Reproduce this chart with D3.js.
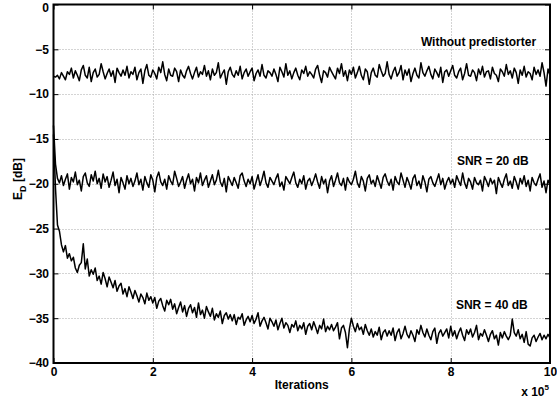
<!DOCTYPE html>
<html>
<head>
<meta charset="utf-8">
<script src="https://cdn.jsdelivr.net/npm/d3@7"></script>
<style>
  html, body { margin: 0; padding: 0; background: #fff; }
  svg { display: block; font-family: "Liberation Sans", Arial, Helvetica, sans-serif; font-weight: bold; }
</style>
</head>
<body>
<svg id="chart" width="557" height="403"></svg>
<script>
// ---- data (x in units of 1e5 iterations) ----
const iterStep = 0.04;   // spacing between samples, x 10^5 iterations
const xTicks = [0, 2, 4, 6, 8, 10];
const yTicks = [-40, -35, -30, -25, -20, -15, -10, -5, 0];
const labels = ["Without predistorter", "SNR = 20 dB", "SNR = 40 dB"];

const withoutPD = [
-8.0,-8.1,-7.9,-8.3,-7.6,-8.0,-8.4,-7.5,-7.8,-7.1,
-8.2,-7.4,-7.9,-8.5,-7.3,-6.8,-7.9,-8.2,-7.0,-8.6,
-7.6,-7.2,-8.1,-7.8,-6.6,-7.5,-8.3,-7.7,-7.2,-8.0,
-7.4,-8.7,-7.1,-7.6,-8.0,-7.3,-7.9,-6.9,-8.2,-7.5,
-7.8,-7.0,-8.4,-7.6,-7.2,-8.8,-7.4,-6.7,-7.9,-8.1,
-7.3,-7.7,-8.3,-7.0,-7.6,-6.4,-7.8,-8.5,-7.2,-7.9,
-8.0,-7.1,-7.5,-8.6,-7.3,-7.9,-8.2,-7.4,-6.9,-7.7,
-8.3,-7.6,-7.0,-8.1,-7.5,-7.8,-6.8,-8.0,-7.4,-8.4,
-7.2,-7.9,-7.6,-6.5,-8.2,-7.7,-7.3,-8.9,-7.5,-7.0,
-7.8,-8.1,-7.4,-7.9,-6.9,-8.3,-7.6,-7.2,-8.0,-7.5,
-7.1,-8.5,-7.7,-7.3,-8.0,-6.7,-7.9,-8.2,-7.4,-7.6,
-8.0,-7.2,-7.8,-8.6,-7.0,-7.5,-8.1,-6.6,-7.9,-7.4,
-8.3,-7.6,-7.1,-7.9,-8.4,-7.3,-7.7,-6.9,-8.0,-7.5,
-7.8,-8.2,-7.2,-6.8,-7.9,-8.7,-7.4,-7.6,-8.1,-7.0,
-7.5,-7.9,-8.3,-7.1,-7.7,-6.6,-8.0,-7.4,-8.5,-7.3,
-7.8,-7.0,-8.2,-7.6,-6.9,-7.9,-8.4,-7.2,-7.5,-8.9,
-7.6,-7.1,-7.9,-8.1,-6.7,-7.4,-8.0,-7.7,-6.4,-7.8,
-8.3,-7.5,-7.0,-8.0,-7.6,-6.8,-8.4,-7.3,-7.9,-7.2,
-8.6,-7.7,-7.1,-7.9,-8.2,-6.5,-7.6,-8.0,-7.4,-6.9,
-7.8,-8.3,-7.2,-7.6,-8.1,-7.0,-8.7,-7.5,-7.3,-8.0,
-7.4,-6.8,-7.9,-8.2,-7.5,-7.1,-8.4,-7.7,-6.6,-7.9,
-8.0,-7.3,-7.6,-8.5,-7.2,-7.8,-6.9,-8.1,-7.5,-7.4,
-8.3,-7.0,-7.7,-7.9,-8.6,-7.2,-7.5,-8.0,-6.7,-7.8,
-7.4,-8.2,-7.1,-7.6,-8.8,-7.3,-7.9,-6.9,-8.1,-7.5,
-7.7,-8.4,-7.0,-7.8,-7.3,-8.0,-6.5,-7.6,-9.1,-7.2,
-7.9
];

const snr20 = [
-13.5,-17.8,-19.4,-19.9,-19.1,-20.2,-19.5,-18.9,-20.6,-19.3,
-19.8,-18.7,-20.1,-19.6,-20.8,-19.2,-18.8,-19.9,-20.3,-19.0,
-19.7,-18.6,-20.0,-19.4,-20.5,-18.9,-19.8,-19.2,-20.4,-19.6,
-18.7,-20.2,-19.5,-21.0,-19.3,-19.9,-20.6,-19.1,-20.0,-19.4,
-20.3,-19.7,-18.8,-20.1,-19.5,-20.7,-19.2,-19.9,-20.4,-19.0,
-19.6,-20.9,-19.3,-18.7,-19.8,-20.2,-19.5,-20.6,-19.1,-19.7,
-20.1,-18.6,-19.4,-20.3,-19.8,-19.2,-20.5,-19.6,-18.9,-20.0,
-19.5,-20.8,-19.3,-19.9,-18.8,-20.2,-19.6,-19.1,-20.4,-19.7,
-19.0,-20.1,-19.6,-18.5,-19.8,-20.3,-19.4,-20.9,-19.2,-19.7,
-20.2,-19.3,-19.9,-20.5,-19.1,-18.8,-19.7,-20.3,-19.5,-20.0,
-19.2,-20.6,-19.8,-19.0,-20.2,-19.5,-18.6,-19.9,-20.4,-19.3,
-19.7,-20.1,-19.4,-18.9,-20.3,-19.8,-20.7,-19.2,-19.6,-20.0,
-19.3,-18.7,-19.9,-20.4,-19.5,-20.0,-19.1,-20.6,-19.7,-19.4,
-20.2,-19.6,-18.9,-19.8,-20.5,-19.2,-20.0,-19.5,-21.0,-19.7,
-19.1,-20.3,-19.6,-18.8,-19.9,-20.2,-19.4,-20.7,-19.3,-19.8,
-20.1,-19.5,-18.6,-19.9,-20.4,-19.2,-19.7,-20.8,-19.4,-19.0,
-20.0,-19.6,-20.3,-19.1,-19.8,-20.5,-19.3,-18.9,-19.7,-20.2,
-19.5,-20.7,-19.2,-19.8,-20.1,-18.8,-19.6,-20.4,-19.3,-19.9,
-20.6,-19.4,-19.0,-20.2,-19.7,-20.5,-19.1,-19.8,-20.9,-19.5,
-19.2,-19.9,-20.3,-19.6,-18.9,-20.1,-19.4,-20.6,-19.8,-19.3,
-20.0,-19.5,-20.4,-19.1,-19.7,-20.2,-18.8,-19.9,-20.5,-19.4,
-19.8,-20.6,-19.3,-19.9,-20.1,-19.6,-20.8,-19.2,-19.7,-20.3,
-19.4,-20.0,-19.6,-21.1,-19.3,-19.9,-20.4,-19.5,-18.9,-20.2,
-19.7,-20.5,-19.2,-19.8,-20.6,-19.4,-20.0,-19.1,-20.3,-19.6,
-20.8,-19.3,-19.9,-20.2,-19.5,-18.9,-20.4,-19.7,-21.0,-19.6,
-20.1
];

const snr40 = [
-14.5,-20.5,-24.6,-25.3,-26.8,-27.6,-26.9,-28.3,-27.8,-28.6,
-28.2,-29.4,-29.9,-29.1,-28.8,-26.7,-29.5,-28.4,-30.3,-29.6,
-30.1,-29.4,-30.8,-30.3,-31.2,-29.9,-30.6,-31.5,-30.4,-31.0,
-31.6,-30.8,-32.0,-31.4,-31.1,-32.3,-31.7,-32.6,-31.5,-32.1,
-32.8,-31.9,-32.5,-33.2,-32.3,-32.7,-33.4,-32.2,-33.0,-32.6,
-33.3,-32.7,-33.9,-33.1,-32.8,-33.6,-34.2,-33.0,-33.5,-32.9,
-34.0,-33.4,-34.5,-33.8,-33.2,-34.3,-33.6,-34.8,-33.9,-33.5,
-34.4,-33.8,-34.9,-33.3,-34.6,-34.1,-35.0,-33.7,-34.3,-34.8,
-33.9,-35.2,-34.5,-34.9,-34.2,-35.6,-34.7,-34.4,-35.1,-34.6,
-35.3,-34.6,-35.7,-34.9,-35.1,-34.5,-35.8,-35.2,-34.8,-35.4,
-34.7,-35.6,-35.1,-34.4,-35.9,-35.3,-34.9,-35.5,-36.2,-35.0,
-35.4,-35.9,-35.2,-36.3,-35.6,-35.0,-36.1,-35.5,-35.8,-36.6,
-35.7,-36.0,-35.3,-36.4,-35.8,-36.2,-35.5,-36.8,-35.9,-35.6,
-36.3,-35.4,-36.0,-36.7,-35.8,-36.2,-35.1,-36.5,-35.9,-36.3,
-35.7,-36.4,-36.0,-35.5,-37.3,-36.1,-35.8,-36.6,-38.3,-36.2,
-35.0,-35.9,-36.5,-35.6,-36.3,-36.0,-36.8,-35.7,-36.4,-36.9,
-36.2,-37.1,-36.5,-36.9,-36.0,-37.4,-36.6,-36.3,-37.0,-36.4,
-36.9,-36.1,-37.5,-36.6,-36.2,-37.3,-36.7,-35.9,-36.8,-37.2,
-36.4,-36.9,-37.6,-36.3,-36.8,-35.8,-36.6,-37.1,-36.2,-36.9,
-37.4,-36.5,-36.1,-37.8,-36.7,-36.3,-37.0,-36.6,-36.2,-37.2,
-35.9,-37.0,-36.4,-37.3,-36.6,-36.1,-36.9,-37.5,-36.3,-36.8,
-36.2,-37.1,-36.6,-35.8,-37.4,-36.7,-37.0,-36.3,-36.9,-37.6,
-36.8,-36.4,-37.3,-36.9,-38.0,-36.6,-37.2,-36.5,-37.0,-37.4,
-36.9,-35.1,-36.6,-37.0,-36.3,-37.3,-36.8,-37.7,-36.5,-37.9,
-38.1,-37.2,-36.9,-37.6,-37.1,-36.7,-37.4,-36.9,-37.3,-36.8,
-37.2
];

// ---- layout ----
const W = 557, H = 403;
const plot = { left: 53.5, right: 550, top: 4.5, bottom: 363 };
const fontFam = '"Liberation Sans", Arial, Helvetica, sans-serif';

const svg = d3.select("#chart");
const x = d3.scaleLinear().domain([0, 10]).range([plot.left, plot.right]);
const y = d3.scaleLinear().domain([-40, 0]).range([plot.bottom, plot.top]);

// grid
const grid = svg.append("g").attr("stroke", "#a8a8a8").attr("stroke-width", 1).attr("stroke-dasharray", "1,2");
grid.selectAll("line.gx").data(xTicks.slice(1, -1)).join("line")
  .attr("x1", d => Math.round(x(d)) + 0.5).attr("x2", d => Math.round(x(d)) + 0.5)
  .attr("y1", plot.top).attr("y2", plot.bottom);
grid.selectAll("line.gy").data(yTicks.slice(1, -1)).join("line")
  .attr("y1", d => Math.round(y(d)) + 0.5).attr("y2", d => Math.round(y(d)) + 0.5)
  .attr("x1", plot.left).attr("x2", plot.right);

// lines
const line = d3.line().x((d, i) => x(i * iterStep)).y(d => y(d));
[withoutPD, snr20, snr40].forEach(s => {
  svg.append("path").datum(s)
    .attr("fill", "none").attr("stroke", "#000").attr("stroke-width", 1.5)
    .attr("stroke-linejoin", "round")
    .attr("d", line);
});

// axes (ticks inward)
const axB = svg.append("g").attr("transform", `translate(0,${plot.bottom})`)
  .call(d3.axisBottom(x).tickValues(xTicks).tickSize(-5).tickPadding(4).tickFormat(d3.format("")));
const axT = svg.append("g").attr("transform", `translate(0,${plot.top})`)
  .call(d3.axisTop(x).tickValues(xTicks).tickSize(-5).tickFormat(""));
const axL = svg.append("g").attr("transform", `translate(${plot.left},0)`)
  .call(d3.axisLeft(y).tickValues(yTicks).tickSize(-5).tickPadding(4.5).tickFormat(d3.format("")));
const axR = svg.append("g").attr("transform", `translate(${plot.right},0)`)
  .call(d3.axisRight(y).tickValues(yTicks).tickSize(-5).tickFormat(""));
[axB, axT, axL, axR].forEach(a => {
  a.select(".domain").remove();
  a.selectAll(".tick line").attr("stroke", "#000").attr("stroke-width", 1);
  a.selectAll("text").attr("font-size", 12).attr("font-weight", "bold")
    .attr("font-family", fontFam).attr("fill", "#000");
});
// keep the top "0" label inside the window
axL.selectAll(".tick").filter(d => d === 0).select("text").attr("dy", "0.62em");

// box
svg.append("rect")
  .attr("x", plot.left).attr("y", plot.top)
  .attr("width", plot.right - plot.left).attr("height", plot.bottom - plot.top)
  .attr("fill", "none").attr("stroke", "#000").attr("stroke-width", 2);

// axis titles
svg.append("text").attr("x", (plot.left + plot.right) / 2).attr("y", 389)
  .attr("text-anchor", "middle").attr("font-size", 12).text("Iterations");

const xm = svg.append("text").attr("x", 549).attr("y", 396).attr("text-anchor", "end").attr("font-size", 12);
xm.append("tspan").text("x 10");
xm.append("tspan").attr("font-size", 8).attr("dy", -6).text("5");

const yl = svg.append("text").attr("transform", "translate(22,179) rotate(-90)")
  .attr("text-anchor", "middle").attr("font-size", 12);
yl.append("tspan").text("E");
yl.append("tspan").attr("font-size", 9).attr("dy", 4).text("D");
yl.append("tspan").attr("dy", -4).text(" [dB]");

// annotations
const ann = [
  { t: labels[0], x: 9.72, y: -4.6 },
  { t: labels[1], x: 9.57, y: -17.9 },
  { t: labels[2], x: 9.55, y: -34.0 }
];
svg.selectAll("text.ann").data(ann).join("text").attr("class", "ann")
  .attr("x", d => x(d.x)).attr("y", d => y(d.y))
  .attr("text-anchor", "end").attr("font-size", 12).text(d => d.t);
</script>
</body>
</html>
